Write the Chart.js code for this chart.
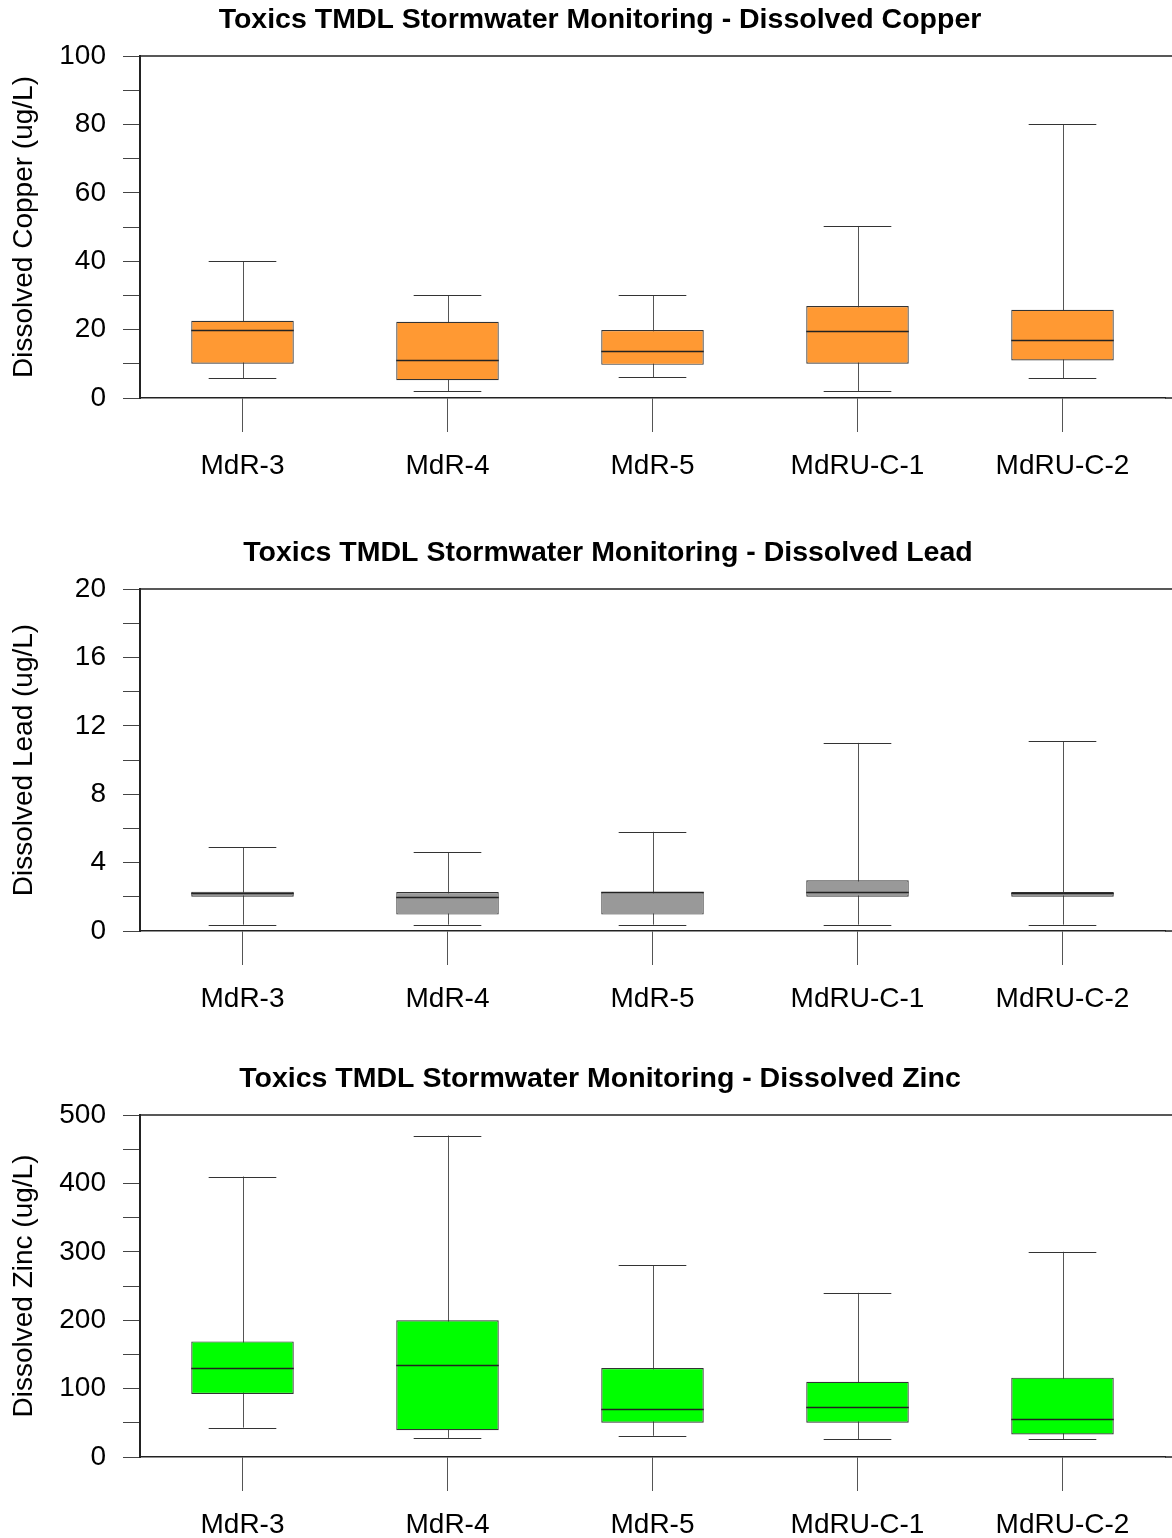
<!DOCTYPE html>
<html>
<head>
<meta charset="utf-8">
<title>Toxics TMDL Stormwater Monitoring</title>
<script src="https://cdn.jsdelivr.net/npm/chart.js@4.4.1/dist/chart.umd.min.js"></script>
<style>
  html, body { margin: 0; padding: 0; background: #fff; }
  #page { position: relative; width: 1172px; height: 1538px; overflow: hidden; }
  canvas { position: absolute; left: 0; }
</style>
</head>
<body>
<div id="page">
  <canvas id="copperChart" width="1172" height="479" style="top:0px"></canvas>
  <canvas id="leadChart" width="1172" height="479" style="top:533px"></canvas>
  <canvas id="zincChart" width="1172" height="479" style="top:1059px"></canvas>
</div>
<script>
// stations on the x axis
const stations = ['MdR-3', 'MdR-4', 'MdR-5', 'MdRU-C-1', 'MdRU-C-2'];

// dissolved copper (ug/L)
const copperMin = [5.8, 2.0, 6.1, 2.0, 5.8];
const copperQ1 = [10.0, 5.2, 9.7, 10.0, 11.0];
const copperMedian = [19.9, 11.0, 13.7, 19.6, 16.9];
const copperQ3 = [22.6, 22.3, 19.9, 26.9, 25.8];
const copperMax = [40, 30, 30, 50.3, 80];
const copperTickLabels = [0, 20, 40, 60, 80, 100];

// dissolved lead (ug/L)
const leadMin = [0.37, 0.37, 0.37, 0.37, 0.37];
const leadQ1 = [2.0, 0.96, 0.96, 2.0, 2.0];
const leadMedian = [2.2, 2.0, 2.28, 2.28, 2.2];
const leadQ3 = [2.3, 2.28, 2.28, 2.97, 2.28];
const leadMax = [4.9, 4.6, 5.8, 11.0, 11.1];
const leadTickLabels = [0, 4, 8, 12, 16, 20];

// dissolved zinc (ug/L)
const zincMin = [43, 28, 31, 26, 26];
const zincQ1 = [92, 39, 50, 50, 33];
const zincMedian = [130, 134, 70, 73, 55];
const zincQ3 = [169, 200, 130, 110, 116];
const zincMax = [410, 470, 280, 240, 300];
const zincTickLabels = [0, 100, 200, 300, 400, 500];

Chart.defaults.font.family = '"Liberation Sans", Arial, Helvetica, sans-serif';
Chart.defaults.color = '#000';

// whiskers under the boxes, medians on top
const boxPlotPlugin = {
    id: 'boxPlot',
    beforeDatasetsDraw(chart) {
        const ctx = chart.ctx;
        const yScale = chart.scales.y;
        const ds = chart.data.datasets[0];
        chart.getDatasetMeta(0).data.forEach((bar, i) => {
            const yLo = yScale.getPixelForValue(ds.whiskerMin[i]);
            const yHi = yScale.getPixelForValue(ds.whiskerMax[i]);
            const cap = bar.width * 0.33;
            ctx.save();
            ctx.strokeStyle = '#555';
            ctx.lineWidth = 1;
            ctx.beginPath();
            ctx.moveTo(Math.round(bar.x) + 0.5, yLo);
            ctx.lineTo(Math.round(bar.x) + 0.5, yHi);
            ctx.stroke();
            ctx.strokeStyle = '#333';
            ctx.beginPath();
            ctx.moveTo(bar.x - cap, Math.round(yLo) + 0.5);
            ctx.lineTo(bar.x + cap, Math.round(yLo) + 0.5);
            ctx.moveTo(bar.x - cap, Math.round(yHi) + 0.5);
            ctx.lineTo(bar.x + cap, Math.round(yHi) + 0.5);
            ctx.stroke();
            ctx.restore();
        });
    },
    afterDatasetsDraw(chart) {
        const ctx = chart.ctx;
        const yScale = chart.scales.y;
        const ds = chart.data.datasets[0];
        chart.getDatasetMeta(0).data.forEach((bar, i) => {
            const ym = Math.round(yScale.getPixelForValue(ds.median[i])) + 0.5;
            ctx.save();
            ctx.strokeStyle = '#222';
            ctx.lineWidth = 1.4;
            ctx.beginPath();
            ctx.moveTo(bar.x - bar.width / 2, ym);
            ctx.lineTo(bar.x + bar.width / 2, ym);
            ctx.stroke();
            ctx.restore();
        });
    },
    afterDraw(chart) {
        const ctx = chart.ctx;
        const area = chart.chartArea;
        ctx.save();
        // top frame line and the axis running out to the page edge
        ctx.strokeStyle = '#222';
        ctx.lineWidth = 1.5;
        ctx.beginPath();
        ctx.moveTo(area.left, area.top);
        ctx.lineTo(chart.width, area.top);
        ctx.moveTo(area.right, area.bottom);
        ctx.lineTo(chart.width, area.bottom);
        ctx.stroke();
        // chart heading
        const opts = chart.options.plugins.boxPlot;
        ctx.fillStyle = '#000';
        ctx.font = 'bold 28.5px "Liberation Sans", Arial, sans-serif';
        ctx.textAlign = 'center';
        ctx.textBaseline = 'middle';
        ctx.fillText(opts.heading, opts.headingX, 20);
        ctx.restore();
    }
};

function makeBoxChart(canvasId, heading, headingX, axisTitle, fill, mins, q1s, medians, q3s, maxs, tickLabels) {
    const yMax = tickLabels[tickLabels.length - 1];
    const step = (tickLabels[1] - tickLabels[0]) / 2;
    return new Chart(document.getElementById(canvasId), {
        type: 'bar',
        data: {
            labels: stations,
            datasets: [{
                data: stations.map((s, i) => [q1s[i], q3s[i]]),
                whiskerMin: mins,
                whiskerMax: maxs,
                median: medians,
                backgroundColor: fill,
                borderColor: '#333',
                borderWidth: 1.2,
                borderSkipped: false,
                barPercentage: 0.5,
                categoryPercentage: 1
            }]
        },
        options: {
            responsive: false,
            animation: false,
            layout: { padding: { top: 56, right: 7, left: 0, bottom: 0 } },
            plugins: {
                legend: { display: false },
                tooltip: { enabled: false },
                boxPlot: { heading: heading, headingX: headingX }
            },
            scales: {
                x: {
                    type: 'category',
                    offset: true,
                    afterFit(scale) { scale.height = 81; },
                    grid: {
                        offset: false,
                        drawOnChartArea: false,
                        drawTicks: true,
                        tickLength: 34,
                        color: '#555',
                        lineWidth: 1
                    },
                    border: { display: true, color: '#222', width: 1.5 },
                    ticks: {
                        font: { size: 28 },
                        color: '#000',
                        padding: 17,
                        maxRotation: 0,
                        autoSkip: false
                    }
                },
                y: {
                    min: 0,
                    max: yMax,
                    afterFit(scale) { scale.width = 140; },
                    afterBuildTicks(scale) {
                        const ticks = [];
                        for (let v = 0; v <= yMax + 1e-9; v += step) ticks.push({ value: v });
                        scale.ticks = ticks;
                    },
                    grid: {
                        drawOnChartArea: false,
                        drawTicks: true,
                        tickLength: 17,
                        color: '#444',
                        lineWidth: 1
                    },
                    border: { display: true, color: '#222', width: 2 },
                    ticks: {
                        font: { size: 28 },
                        color: '#000',
                        padding: 17,
                        autoSkip: false,
                        callback: (v) => tickLabels.includes(Math.round(v * 1000) / 1000) ? String(Math.round(v * 1000) / 1000) : ''
                    },
                    title: {
                        display: true,
                        text: axisTitle,
                        font: { size: 28 },
                        color: '#000',
                        padding: { top: 7, bottom: 0 }
                    }
                }
            }
        },
        plugins: [boxPlotPlugin]
    });
}

makeBoxChart('copperChart', 'Toxics TMDL Stormwater Monitoring - Dissolved Copper', 600,
    'Dissolved Copper (ug/L)', '#FF9933', copperMin, copperQ1, copperMedian, copperQ3, copperMax, copperTickLabels);
makeBoxChart('leadChart', 'Toxics TMDL Stormwater Monitoring - Dissolved Lead', 608,
    'Dissolved Lead (ug/L)', '#999999', leadMin, leadQ1, leadMedian, leadQ3, leadMax, leadTickLabels);
makeBoxChart('zincChart', 'Toxics TMDL Stormwater Monitoring - Dissolved Zinc', 600,
    'Dissolved Zinc (ug/L)', '#00FF00', zincMin, zincQ1, zincMedian, zincQ3, zincMax, zincTickLabels);
</script>
</body>
</html>
